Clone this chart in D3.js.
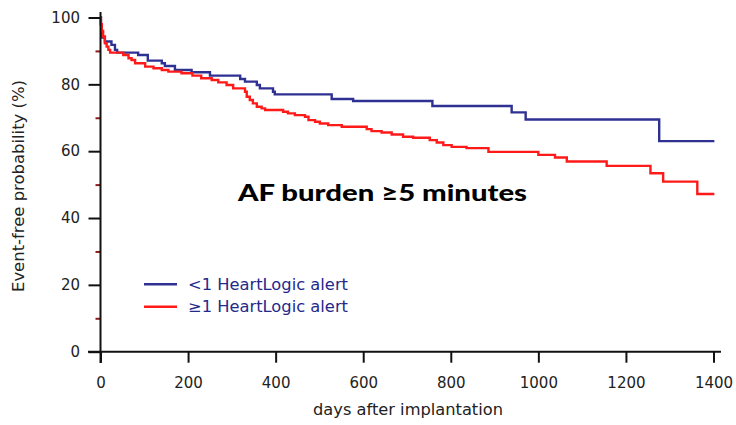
<!DOCTYPE html>
<html>
<head>
<meta charset="utf-8">
<script src="https://cdn.jsdelivr.net/npm/d3@7"></script>
<style>
  html, body { margin: 0; padding: 0; background: #fff; }
  text { font-family: "DejaVu Sans", Verdana, sans-serif; }
</style>
</head>
<body>
<svg id="chart" width="736" height="425"></svg>
<script>
// Kaplan-Meier estimates: day at which each step starts, and event-free probability (%) from that day on
const seriesNames = ["<1 HeartLogic alert", "\u22651 HeartLogic alert"];

const lowDays = [0, 1, 2, 4, 10, 25, 33, 38, 86, 108, 140, 147, 170, 208, 250, 319, 330, 357, 364, 394, 398, 528, 577, 758, 939, 971, 1276, 1402];
const lowSurv = [100, 98, 96, 94, 92.8, 91.8, 90.3, 89.5, 88.8, 87.1, 86.3, 85.5, 84.3, 83.6, 82.6, 81.6, 80.8, 79.8, 78.8, 77.8, 77.0, 75.6, 75.0, 73.5, 71.6, 69.5, 63.0, 63.0];

const highDays = [0, 1, 3, 6, 10, 14, 18, 22, 52, 64, 71, 79, 102, 121, 140, 155, 185, 210, 230, 254, 269, 288, 303, 330, 334, 341, 348, 357, 368, 376, 417, 428, 444, 467, 475, 490, 501, 520, 551, 608, 619, 642, 665, 691, 714, 752, 768, 783, 802, 836, 886, 1000, 1038, 1065, 1156, 1256, 1285, 1363, 1402];
const highSurv = [100, 98, 96, 94.3, 92.3, 91.3, 90.3, 89.5, 88.8, 87.8, 87.3, 86.3, 85.3, 84.8, 84.3, 83.8, 83.3, 82.6, 81.8, 81.3, 80.6, 79.8, 78.8, 77.8, 76.3, 75.3, 74.3, 73.3, 72.8, 72.3, 71.8, 71.3, 70.8, 70.3, 69.3, 68.8, 68.3, 67.8, 67.3, 66.6, 66.0, 65.6, 65.0, 64.3, 64.0, 63.3, 62.6, 61.8, 61.3, 60.9, 59.8, 58.9, 58.1, 56.9, 55.6, 53.4, 50.9, 47.2, 47.2];

const xTicks = [0, 200, 400, 600, 800, 1000, 1200, 1400];
const yMajorTicks = [0, 20, 40, 60, 80, 100];
const yMinorTicks = [10, 30, 50, 70, 90];

const titleText = "AF burden \u22655 minutes";
const xTitle = "days after implantation";
const yTitle = "Event-free probability (%)";

const colors = ["#2e3192", "#ff1a1a"];

const svg = d3.select("#chart");

const x = d3.scaleLinear().domain([0, 1400]).range([100.5, 713.5]);
const y = d3.scaleLinear().domain([0, 100]).range([351.7, 17.5]);

// survival curves
const line = d3.line()
  .x(d => x(d[0]))
  .y(d => y(d[1]))
  .curve(d3.curveStepAfter);

const series = [
  d3.zip(lowDays, lowSurv),
  d3.zip(highDays, highSurv)
];

series.forEach((pts, i) => {
  svg.append("path")
    .datum(pts)
    .attr("d", line)
    .attr("fill", "none")
    .attr("stroke", colors[i])
    .attr("stroke-width", 2.4)
    .attr("stroke-linejoin", "miter");
});

// y axis: minor ticks
const yMinor = svg.append("g")
  .attr("transform", "translate(100.5,0)")
  .call(d3.axisLeft(y).tickValues(yMinorTicks).tickSize(5).tickSizeOuter(0).tickFormat(""));
yMinor.select(".domain").remove();
yMinor.selectAll(".tick line").attr("stroke", "#8b1c1c").attr("stroke-width", 2);

// y axis: major ticks and labels
const yAxis = svg.append("g")
  .attr("transform", "translate(100.5,0)")
  .call(d3.axisLeft(y).tickValues(yMajorTicks).tickSize(12).tickPadding(8.5).tickSizeOuter(0).tickFormat(d3.format("d")));
yAxis.select(".domain").remove();
yAxis.selectAll(".tick line").attr("stroke", "#111").attr("stroke-width", 2);
yAxis.selectAll(".tick text")
  .attr("fill", "#222")
  .style("font-size", "15px")
  .style("font-family", "'DejaVu Sans', sans-serif");

// x axis
const xAxis = svg.append("g")
  .attr("transform", "translate(0,351.7)")
  .call(d3.axisBottom(x).tickValues(xTicks).tickSize(11).tickPadding(15).tickSizeOuter(0).tickFormat(d3.format("d")));
xAxis.select(".domain").remove();
xAxis.selectAll(".tick line").attr("stroke", "#111").attr("stroke-width", 2);
xAxis.selectAll(".tick text")
  .attr("fill", "#222")
  .style("font-size", "15px")
  .style("font-family", "'DejaVu Sans', sans-serif");

// axis lines
svg.append("line")
  .attr("x1", x(0)).attr("x2", x(0))
  .attr("y1", 12).attr("y2", 363)
  .attr("stroke", "#111").attr("stroke-width", 2);
svg.append("line")
  .attr("x1", 88).attr("x2", 721)
  .attr("y1", y(0)).attr("y2", y(0))
  .attr("stroke", "#111").attr("stroke-width", 2);

// axis titles
svg.append("text")
  .attr("x", 408).attr("y", 415)
  .attr("text-anchor", "middle")
  .attr("fill", "#222")
  .attr("textLength", 190).attr("lengthAdjust", "spacingAndGlyphs")
  .style("font-size", "15px")
  .text(xTitle);

svg.append("text")
  .attr("transform", "translate(24,186) rotate(-90)")
  .attr("text-anchor", "middle")
  .attr("fill", "#222")
  .attr("textLength", 212).attr("lengthAdjust", "spacingAndGlyphs")
  .style("font-size", "15px")
  .text(yTitle);

// chart title
svg.append("text")
  .attr("x", 238).attr("y", 200.5)
  .attr("fill", "#000")
  .attr("textLength", 289).attr("lengthAdjust", "spacingAndGlyphs")
  .style("font-family", "Lato, 'Open Sans', sans-serif")
  .style("font-weight", "900")
  .style("font-size", "22px")
  .text(titleText);

// legend
const legendY = [284.3, 306.7];
seriesNames.forEach((name, i) => {
  svg.append("line")
    .attr("x1", 144).attr("x2", 177)
    .attr("y1", legendY[i]).attr("y2", legendY[i])
    .attr("stroke", colors[i]).attr("stroke-width", 2.4);
  svg.append("text")
    .attr("x", 188).attr("y", legendY[i])
    .attr("dy", "0.36em")
    .attr("fill", "#26288a")
    .attr("textLength", 160).attr("lengthAdjust", "spacingAndGlyphs")
    .style("font-size", "15px")
    .text(name);
});
</script>
</body>
</html>
